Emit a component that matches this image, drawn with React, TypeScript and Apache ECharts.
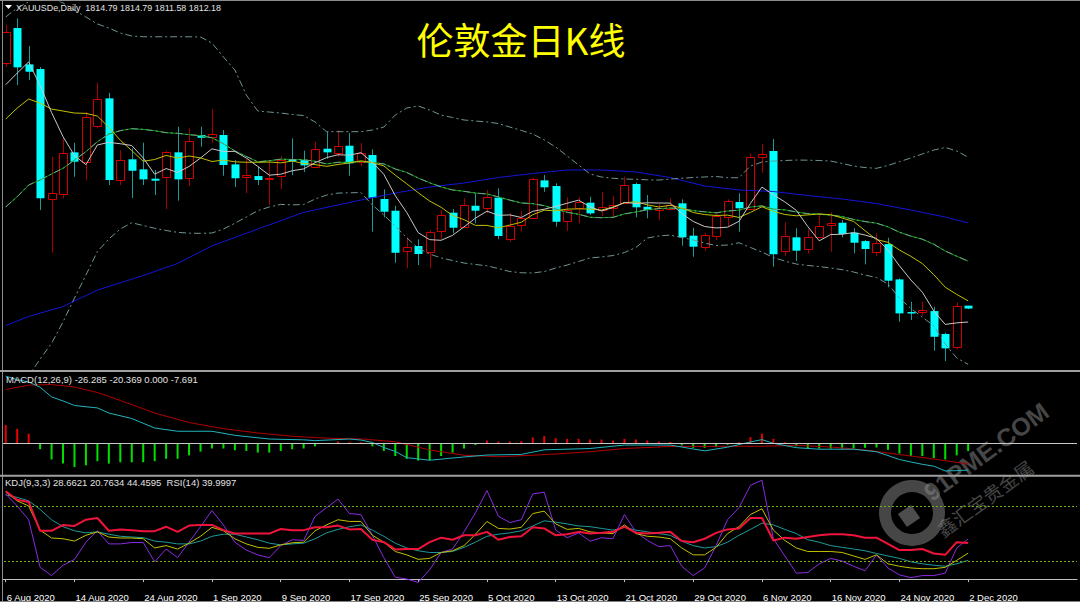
import React, { useEffect, useRef } from "react";
import * as echarts from "echarts";

// ---------- categories (trading days) ----------
const augDays = [6, 7, 10, 11, 12, 13, 14, 17, 18, 19, 20, 21, 24, 25, 26, 27, 28, 31];
const sepDays = [1, 2, 3, 4, 7, 8, 9, 10, 11, 14, 15, 16, 17, 18, 21, 22, 23, 24, 25, 28, 29, 30];
const octDays = [1, 2, 5, 6, 7, 8, 9, 12, 13, 14, 15, 16, 19, 20, 21, 22, 23, 26, 27, 28, 29, 30];
const novDays = [2, 3, 4, 5, 6, 9, 10, 11, 12, 13, 16, 17, 18, 19, 20, 23, 24, 25, 26, 27, 30];
const decDays = [1, 2];
const LABEL_EVERY = 6;
const EMPTY_SLOTS = 9;

// ---------- candles ----------
const opens = [2034.6, 2066.3, 2033.4, 2029.2, 1912.0, 1915.7, 1953.7, 1944.7, 1976.9, 2002.6, 1928.6, 1947.4, 1938.3, 1929.8, 1931.6, 1953.7, 1930.7, 1969.4, 1967.3, 1969.4, 1942.8, 1931.6, 1932.2, 1929.8, 1932.2, 1947.4, 1946.7, 1940.7, 1957.0, 1953.7, 1959.7, 1944.7, 1951.3, 1911.4, 1900.8, 1863.7, 1868.8, 1863.1, 1882.4, 1899.0, 1886.3, 1905.3, 1902.6, 1912.6, 1875.8, 1888.5, 1893.9, 1928.3, 1923.2, 1891.7, 1903.0, 1908.1, 1900.8, 1903.9, 1908.1, 1925.0, 1904.4, 1901.4, 1902.3, 1907.5, 1878.2, 1868.2, 1877.9, 1895.4, 1908.7, 1903.0, 1949.2, 1954.9, 1864.3, 1876.7, 1865.8, 1877.3, 1887.9, 1889.9, 1880.9, 1873.3, 1863.1, 1870.6, 1838.6, 1809.0, 1808.8, 1809.9, 1789.1, 1777.6, 1814.79];
const highs = [2069.0, 2075.1, 2050.0, 2031.0, 1949.7, 1966.4, 1962.4, 1990.5, 2016.8, 2007.7, 1955.8, 1957.3, 1962.4, 1937.7, 1955.2, 1976.9, 1975.5, 1976.9, 1992.9, 1973.9, 1946.7, 1948.3, 1940.7, 1946.7, 1950.4, 1966.4, 1955.2, 1963.3, 1972.4, 1973.9, 1971.2, 1962.1, 1956.4, 1920.2, 1905.1, 1876.7, 1874.9, 1883.3, 1901.4, 1902.3, 1912.0, 1916.6, 1919.6, 1921.1, 1898.4, 1900.8, 1930.4, 1933.1, 1925.6, 1912.9, 1912.9, 1913.5, 1918.0, 1914.4, 1931.6, 1926.2, 1915.0, 1906.9, 1912.0, 1911.1, 1885.4, 1880.6, 1898.7, 1911.1, 1916.6, 1952.8, 1961.0, 1965.8, 1890.3, 1884.9, 1883.9, 1896.9, 1899.4, 1892.4, 1884.9, 1874.3, 1880.3, 1876.3, 1839.6, 1818.4, 1818.4, 1813.8, 1790.3, 1817.8, 1814.79];
const lows = [2031.0, 2014.7, 2019.2, 1901.4, 1862.7, 1912.0, 1931.6, 1928.6, 1975.5, 1924.1, 1924.1, 1912.3, 1924.1, 1915.0, 1902.3, 1909.9, 1923.2, 1958.8, 1962.4, 1932.5, 1922.3, 1916.8, 1924.1, 1905.9, 1920.5, 1933.1, 1935.9, 1939.8, 1947.9, 1949.7, 1932.5, 1941.3, 1881.8, 1894.8, 1853.7, 1848.6, 1851.6, 1848.6, 1874.9, 1880.3, 1885.4, 1889.4, 1898.4, 1874.9, 1872.7, 1881.8, 1893.3, 1918.0, 1886.3, 1882.4, 1889.4, 1896.9, 1896.0, 1895.4, 1907.5, 1894.8, 1893.9, 1892.4, 1901.4, 1869.1, 1859.1, 1864.6, 1874.3, 1886.3, 1881.8, 1901.4, 1935.2, 1850.1, 1860.0, 1855.2, 1862.2, 1876.3, 1863.7, 1876.7, 1862.2, 1852.2, 1860.0, 1831.4, 1800.2, 1801.8, 1805.7, 1773.9, 1764.6, 1775.2, 1811.58];
const closes = [2062.7, 2030.7, 2026.7, 1912.0, 1917.1, 1952.8, 1945.2, 1985.4, 2001.7, 1928.6, 1946.7, 1937.0, 1929.2, 1928.0, 1954.3, 1929.2, 1963.9, 1966.9, 1970.0, 1942.2, 1930.2, 1933.4, 1928.6, 1930.7, 1946.7, 1945.6, 1941.9, 1956.7, 1953.7, 1959.7, 1943.7, 1953.1, 1912.6, 1899.9, 1862.7, 1867.6, 1861.6, 1881.2, 1896.9, 1885.4, 1906.0, 1900.8, 1912.9, 1877.9, 1887.2, 1894.5, 1929.2, 1922.0, 1890.8, 1901.4, 1908.7, 1898.4, 1903.9, 1906.2, 1924.4, 1903.9, 1901.4, 1903.0, 1906.0, 1876.7, 1868.2, 1878.8, 1896.3, 1909.6, 1903.0, 1949.7, 1952.2, 1861.3, 1877.9, 1864.6, 1876.7, 1887.2, 1889.4, 1879.7, 1871.8, 1866.1, 1871.3, 1837.4, 1807.8, 1807.8, 1810.6, 1786.6, 1776.1, 1814.7, 1812.18];

// ---------- main-window indicator lines ----------
const ma5 = [2015.0, 2025.5, 2035.6, 2014.2, 1989.8, 1967.9, 1950.8, 1942.5, 1960.4, 1962.7, 1961.5, 1959.9, 1948.6, 1933.9, 1939.0, 1935.5, 1940.9, 1948.5, 1956.9, 1954.4, 1954.6, 1948.5, 1940.9, 1933.0, 1933.9, 1937.0, 1938.7, 1944.3, 1948.9, 1951.5, 1951.1, 1953.4, 1944.6, 1933.8, 1914.4, 1899.2, 1880.9, 1874.6, 1874.0, 1878.5, 1886.2, 1894.1, 1900.4, 1896.6, 1897.0, 1894.7, 1900.3, 1902.2, 1904.7, 1907.6, 1910.4, 1904.3, 1900.6, 1903.7, 1908.3, 1907.4, 1908.0, 1907.8, 1907.7, 1898.2, 1891.1, 1886.5, 1885.2, 1885.9, 1891.2, 1907.5, 1922.2, 1915.2, 1908.8, 1901.1, 1886.5, 1873.5, 1879.2, 1879.5, 1881.0, 1878.8, 1875.7, 1865.3, 1850.9, 1838.1, 1827.0, 1810.0, 1797.8, 1799.2, 1800.0];
const ma10 = [1983.9, 1993.8, 2002.0, 1998.4, 1992.9, 1991.1, 1989.3, 1989.0, 1986.6, 1976.3, 1964.7, 1955.3, 1945.6, 1947.2, 1950.9, 1948.5, 1950.4, 1948.6, 1945.4, 1946.7, 1945.1, 1944.7, 1944.7, 1944.9, 1944.2, 1945.8, 1943.6, 1942.6, 1941.0, 1942.7, 1944.1, 1946.0, 1944.4, 1941.4, 1933.0, 1925.2, 1917.1, 1909.6, 1903.9, 1896.5, 1892.7, 1887.5, 1887.5, 1885.3, 1887.8, 1890.4, 1897.2, 1901.3, 1900.7, 1902.3, 1902.5, 1902.3, 1901.4, 1904.2, 1908.0, 1908.9, 1906.1, 1904.2, 1905.7, 1903.3, 1899.2, 1897.3, 1896.5, 1896.8, 1894.7, 1899.3, 1904.4, 1900.2, 1897.4, 1896.2, 1897.0, 1897.9, 1897.2, 1894.2, 1891.1, 1882.7, 1874.6, 1872.2, 1865.2, 1859.5, 1852.9, 1842.9, 1831.5, 1825.0, 1819.1];
const ma20 = [1904.2, 1913.5, 1924.1, 1928.6, 1934.1, 1939.2, 1946.7, 1954.3, 1963.3, 1970.3, 1973.3, 1975.1, 1974.5, 1973.3, 1971.5, 1970.9, 1969.7, 1968.8, 1966.9, 1961.5, 1954.9, 1950.0, 1945.1, 1946.1, 1947.5, 1947.2, 1947.0, 1945.6, 1943.2, 1944.7, 1944.6, 1945.4, 1944.6, 1943.2, 1938.6, 1935.5, 1930.4, 1926.1, 1922.4, 1919.6, 1918.4, 1916.8, 1916.0, 1913.3, 1910.4, 1907.8, 1907.2, 1905.4, 1902.3, 1899.4, 1897.6, 1894.9, 1894.5, 1894.8, 1897.9, 1899.7, 1901.7, 1902.7, 1903.2, 1902.8, 1900.9, 1899.8, 1898.9, 1900.5, 1901.3, 1904.1, 1905.2, 1902.2, 1901.6, 1899.7, 1898.1, 1897.6, 1896.8, 1895.5, 1892.9, 1891.0, 1889.5, 1886.2, 1881.3, 1877.8, 1875.0, 1870.4, 1864.3, 1859.6, 1855.1];
const bollUpper = [2076.3, 2084.5, 2089.9, 2095.3, 2094.4, 2089.0, 2082.6, 2076.3, 2070.0, 2066.3, 2061.8, 2059.1, 2058.4, 2058.4, 2058.4, 2058.4, 2058.4, 2058.2, 2052.7, 2040.1, 2028.3, 2005.6, 1991.1, 1990.2, 1989.3, 1988.0, 1987.0, 1981.2, 1972.4, 1972.4, 1972.4, 1972.4, 1973.9, 1976.6, 1987.5, 1993.9, 1995.7, 1992.0, 1987.5, 1985.2, 1983.0, 1982.1, 1981.2, 1979.8, 1976.6, 1973.5, 1970.3, 1964.9, 1958.5, 1950.4, 1942.2, 1934.1, 1931.3, 1930.2, 1929.5, 1929.3, 1928.8, 1928.6, 1929.5, 1930.2, 1930.9, 1931.4, 1931.8, 1930.7, 1930.7, 1941.3, 1944.9, 1945.8, 1946.3, 1946.7, 1946.6, 1946.3, 1945.8, 1943.6, 1941.3, 1939.9, 1939.2, 1941.8, 1945.2, 1948.6, 1952.2, 1955.8, 1958.1, 1954.9, 1949.2];
const bollLower = [1728.4, 1738.4, 1751.1, 1766.4, 1780.7, 1800.0, 1821.7, 1842.5, 1863.8, 1875.2, 1884.2, 1889.9, 1887.4, 1884.9, 1882.9, 1881.2, 1880.5, 1880.3, 1880.6, 1884.2, 1889.5, 1895.1, 1900.8, 1904.2, 1906.5, 1906.1, 1906.4, 1911.4, 1915.0, 1916.8, 1917.0, 1917.3, 1906.0, 1896.9, 1887.0, 1876.1, 1867.0, 1861.6, 1858.0, 1855.7, 1853.4, 1852.1, 1850.9, 1848.4, 1845.7, 1844.6, 1844.4, 1845.7, 1848.9, 1851.6, 1854.8, 1858.0, 1858.9, 1860.2, 1862.9, 1867.5, 1876.1, 1877.9, 1878.8, 1876.5, 1874.3, 1871.5, 1869.3, 1869.7, 1871.8, 1867.5, 1863.4, 1858.4, 1855.2, 1852.5, 1851.2, 1850.2, 1848.9, 1847.4, 1845.3, 1842.5, 1840.3, 1834.4, 1821.7, 1812.2, 1804.5, 1796.4, 1780.0, 1767.4, 1761.6];
const maSlowIdx = [0, 2, 5, 8, 12, 15, 18, 22, 26, 31, 34, 37, 40, 43, 46, 49, 52, 55, 58, 61, 64, 67, 70, 73, 76, 79, 82, 84];
const maSlowVal = [1796.8, 1805.0, 1814.0, 1828.9, 1842.1, 1853.0, 1869.0, 1884.2, 1899.3, 1910.5, 1916.8, 1922.3, 1925.9, 1930.9, 1934.5, 1937.7, 1937.7, 1935.9, 1930.9, 1923.2, 1919.6, 1918.2, 1914.6, 1911.4, 1907.3, 1901.4, 1895.1, 1889.7];

// ---------- MACD window ----------
const macdHist = [17.9, 14.2, 9.4, -5.8, -15.9, -19.9, -23.3, -21.6, -17.5, -19.9, -18.6, -18.6, -18.6, -17.5, -15.2, -15.2, -11.8, -8.1, -5.1, -5.1, -6.8, -7.5, -9.1, -9.1, -7.5, -5.8, -5.1, -3.0, -0.7, 1.7, 1.0, 1.0, -3.0, -7.5, -12.5, -15.2, -16.9, -16.6, -12.5, -9.1, -5.1, -1.7, 2.7, 1.7, 1.7, 2.1, 5.8, 7.1, 5.1, 4.4, 4.4, 3.7, 3.7, 2.7, 4.4, 3.7, 2.7, 1.7, 1.4, -2.0, -4.4, -4.4, -3.7, -1.4, 1.0, 6.1, 9.4, 4.4, 1.0, -3.0, -5.1, -5.1, -5.1, -5.1, -5.1, -4.4, -4.1, -6.4, -10.1, -12.5, -12.5, -14.5, -15.9, -11.8, -7.691];
const difIdx = [0, 1, 2, 3, 4, 5, 6, 7, 8, 9, 11, 13, 15, 18, 20, 23, 26, 27, 30, 31, 32, 33, 34, 35, 37, 40, 42, 45, 47, 51, 54, 58, 60, 61, 63, 65, 66, 67, 69, 71, 74, 76, 77, 78, 79, 80, 81, 82, 83, 84];
const difVal = [65.8, 62.4, 60.1, 55.0, 45.5, 41.5, 37.1, 35.8, 34.7, 29.7, 24.3, 15.0, 11.8, 11.8, 7.8, 4.2, 3.4, 2.6, 4.2, 3.2, 0.8, -4.1, -8.0, -14.1, -16.6, -13.4, -11.5, -10.9, -6.4, -5.1, -1.7, -1.7, -5.6, -7.4, -3.8, 1.3, 3.6, 0.0, -4.3, -5.8, -5.8, -8.3, -12.0, -15.9, -18.3, -20.6, -22.4, -27.1, -26.8, -26.285];
const deaIdx = [0, 2, 4, 6, 8, 10, 13, 16, 19, 22, 25, 28, 31, 34, 37, 40, 43, 46, 48, 51, 54, 58, 62, 66, 69, 72, 75, 78, 81, 84];
const deaVal = [52.7, 57.0, 57.6, 55.2, 49.8, 42.0, 29.7, 20.4, 14.3, 10.1, 6.9, 5.0, 4.3, 1.5, -6.5, -11.7, -13.2, -11.7, -10.5, -8.3, -5.1, -3.1, -3.0, -2.9, -2.0, -3.6, -6.6, -11.0, -15.4, -20.369];

// ---------- KDJ / RSI window ----------
const kLine = [96.0, 86.5, 80.8, 54.1, 45.4, 44.6, 42.0, 48.4, 52.2, 46.5, 45.4, 45.4, 44.6, 34.4, 37.0, 33.2, 39.7, 47.3, 57.2, 53.4, 44.6, 38.9, 35.1, 34.0, 37.8, 40.1, 40.8, 53.4, 59.9, 65.6, 63.7, 63.7, 48.4, 40.8, 30.5, 26.8, 21.8, 22.9, 29.4, 31.3, 37.0, 49.6, 63.7, 56.0, 55.3, 57.2, 72.4, 75.1, 61.0, 54.9, 56.0, 52.2, 51.1, 50.3, 59.9, 50.3, 47.3, 46.5, 44.6, 34.4, 26.8, 26.8, 35.1, 50.3, 57.9, 71.3, 77.7, 54.1, 42.7, 34.4, 30.5, 30.5, 30.5, 29.4, 25.6, 21.8, 26.8, 16.9, 14.2, 12.3, 11.5, 11.5, 13.0, 20.7, 28.66];
const dLine = [93.0, 90.3, 86.5, 77.0, 65.6, 57.9, 53.4, 51.1, 52.2, 49.6, 47.3, 46.5, 45.8, 42.0, 40.8, 38.9, 38.9, 42.0, 47.3, 49.6, 49.6, 46.5, 43.5, 39.7, 37.8, 38.9, 39.7, 44.6, 51.1, 54.9, 57.9, 59.9, 54.1, 47.3, 39.7, 34.4, 31.3, 29.4, 29.4, 30.5, 35.1, 40.8, 47.3, 49.6, 51.1, 53.4, 58.7, 64.4, 62.9, 61.0, 58.7, 57.9, 56.0, 54.1, 57.2, 54.1, 52.2, 50.3, 48.4, 42.0, 37.0, 34.4, 35.9, 40.8, 48.4, 54.9, 61.8, 59.9, 54.9, 50.3, 43.5, 40.8, 37.0, 35.1, 33.2, 31.3, 28.3, 25.6, 22.9, 19.1, 16.9, 15.3, 14.2, 16.9, 20.76];
const jLine = [94.1, 80.8, 65.6, 13.0, 3.9, 15.3, 21.8, 40.8, 53.4, 38.9, 38.9, 40.4, 40.4, 19.1, 33.2, 23.7, 40.8, 57.9, 75.8, 59.8, 40.8, 32.1, 26.7, 23.7, 37.0, 43.5, 42.7, 69.4, 78.9, 88.4, 72.4, 71.3, 48.4, 23.7, 2.0, 0.1, -3.7, 10.4, 29.4, 33.2, 52.2, 73.2, 97.9, 69.4, 62.5, 65.6, 94.1, 96.0, 54.1, 45.7, 51.1, 41.9, 45.7, 44.6, 71.3, 52.2, 42.7, 35.9, 37.0, 14.2, 3.9, 12.3, 37.0, 65.6, 78.9, 103.6, 109.3, 44.6, 25.6, 6.6, 7.3, 16.8, 22.9, 19.9, 14.2, 9.2, 26.7, 12.3, 4.7, 1.6, 3.9, 3.9, 6.6, 34.3, 44.46];
const rsiLine = [97.0, 87.6, 85.3, 53.4, 53.4, 59.9, 58.7, 65.6, 67.5, 53.4, 54.9, 54.1, 53.0, 53.0, 57.9, 52.2, 59.1, 59.9, 59.9, 54.1, 50.3, 50.3, 50.3, 50.3, 55.3, 54.1, 54.1, 57.2, 57.2, 59.1, 54.9, 55.3, 43.5, 40.8, 32.8, 33.2, 33.2, 40.8, 45.8, 43.5, 48.4, 48.4, 52.2, 43.5, 46.5, 47.3, 57.2, 56.0, 48.4, 49.6, 52.2, 50.3, 51.1, 52.2, 57.9, 51.1, 50.3, 51.1, 52.2, 42.0, 40.8, 44.6, 51.1, 54.9, 56.0, 67.5, 67.5, 42.7, 45.8, 44.6, 46.5, 48.4, 49.6, 49.6, 48.4, 45.8, 45.8, 38.9, 32.1, 32.1, 33.2, 28.3, 26.8, 40.8, 40.0];
const kdjLevels = [80, 20];

// ---------- texts ----------
const headerMain = "XAUUSDe,Daily  1814.79 1814.79 1811.58 1812.18";
const headerMacd = "MACD(12,26,9) -26.285 -20.369 0.000 -7.691";
const headerKdj = "KDJ(9,3,3) 28.6621 20.7634 44.4595  RSI(14) 39.9997";
const titleText = "伦敦金日K线";
const wmText1 = "91PME.COM";
const wmText2 = "鑫汇宝贵金属";

const SMALL = "'Liberation Sans', Arial, sans-serif";
const SMALL_SIZE = 9.5;

function buildDates(): string[] {
  const out: string[] = [];
  augDays.forEach((d) => out.push(`${d} Aug 2020`));
  sepDays.forEach((d) => out.push(`${d} Sep 2020`));
  octDays.forEach((d) => out.push(`${d} Oct 2020`));
  novDays.forEach((d) => out.push(`${d} Nov 2020`));
  decDays.forEach((d) => out.push(`${d} Dec 2020`));
  return out;
}

function sparse(n: number, idx: number[], val: number[]) {
  const arr: (number | null)[] = new Array(n).fill(null);
  idx.forEach((k, j) => (arr[k] = val[j]));
  return arr;
}

export default function App() {
  const ref = useRef<HTMLDivElement>(null);

  useEffect(() => {
    if (!ref.current) return;
    const chart = echarts.init(ref.current, undefined, { renderer: "svg" });
    const dates = buildDates();
    const N = dates.length;
    const cats = [...dates];
    for (let k = 0; k < EMPTY_SLOTS; k++) cats.push(`pad${k}`);

    const candleData = opens.map((o, i) => [i, o, highs[i], lows[i], closes[i]]);
    const isLabel = (i: number) => i % LABEL_EVERY === 0 && i < N;

    const gridLeft = -1.738;
    const gridWidth = 11.476 * cats.length;

    const hiddenX = (gi: number) => ({
      type: "category",
      gridIndex: gi,
      data: cats,
      boundaryGap: true,
      axisLine: { show: false },
      axisTick: { show: false },
      axisLabel: { show: false },
      splitLine: { show: false },
    });

    const lineS = (name: string, data: any[], color: string, xi: number, extra: any = {}) => ({
      name,
      type: "line",
      xAxisIndex: xi,
      yAxisIndex: xi,
      data,
      symbol: "none",
      showSymbol: false,
      connectNulls: true,
      silent: true,
      z: 3,
      lineStyle: { color, width: 1, ...(extra.lineStyle || {}) },
    });

    const smallText = (text: string, x: number, y: number, scaleX = 1) => ({
      type: "text",
      z: 102,
      x,
      y,
      scaleX,
      style: {
        text,
        fill: "#e0e0e0",
        fontSize: SMALL_SIZE,
        fontFamily: SMALL,
        textVerticalAlign: "middle",
        verticalAlign: "middle",
      },
    });

    const option: any = {
      animation: false,
      backgroundColor: "#000000",
      grid: [
        { left: gridLeft, width: gridWidth, top: 2, height: 368 },
        { left: gridLeft, width: gridWidth, top: 373, height: 101 },
        { left: gridLeft, width: gridWidth, top: 476, height: 111 },
      ],
      xAxis: [
        hiddenX(0),
        hiddenX(1),
        {
          type: "category",
          gridIndex: 2,
          data: cats,
          boundaryGap: true,
          axisLine: { show: true, lineStyle: { color: "#c0c0c0", width: 1 } },
          axisTick: {
            show: true,
            alignWithLabel: true,
            interval: (i: number) => isLabel(i),
            length: 3,
            lineStyle: { color: "#c0c0c0" },
          },
          axisLabel: {
            show: true,
            interval: (i: number) => isLabel(i),
            formatter: (v: string, i: number) => (isLabel(i) ? v : ""),
            align: "left",
            margin: 5,
            padding: [0, 0, 0, 1],
            color: "#ffffff",
            fontSize: SMALL_SIZE,
            lineHeight: 10,
            fontFamily: SMALL,
          },
          splitLine: { show: false },
        },
      ],
      yAxis: [
        { type: "value", gridIndex: 0, min: 1756.5, max: 2089.9, show: false, splitLine: { show: false } },
        { type: "value", gridIndex: 1, min: -30.1, max: 68.92, show: false, splitLine: { show: false } },
        { type: "value", gridIndex: 2, min: -8.73, max: 113.92, show: false, splitLine: { show: false } },
      ],
      series: [
        lineS("MA slow", sparse(N, maSlowIdx, maSlowVal), "#1414d8", 0),
        lineS("BB upper", bollUpper, "#6f9494", 0, { lineStyle: { type: [7, 3, 2, 3] } }),
        lineS("BB lower", bollLower, "#6f9494", 0, { lineStyle: { type: [7, 3, 2, 3] } }),
        lineS("MA20", ma20, "#00a000", 0),
        lineS("BB mid", ma20, "#7a9a9a", 0, { lineStyle: { type: [7, 3, 2, 3] } }),
        lineS("MA10", ma10, "#c0c000", 0),
        lineS("MA5", ma5, "#c8c8c8", 0),
        {
          name: "K",
          type: "custom",
          xAxisIndex: 0,
          yAxisIndex: 0,
          z: 2,
          silent: true,
          encode: { x: 0, y: [1, 2, 3, 4] },
          data: candleData,
          renderItem: (params: any, api: any) => {
            const i = api.value(0);
            const o = api.value(1);
            const h = api.value(2);
            const l = api.value(3);
            const c = api.value(4);
            const pO = api.coord([i, o]);
            const pC = api.coord([i, c]);
            const pH = api.coord([i, h]);
            const pL = api.coord([i, l]);
            const cx = Math.round(pO[0]);
            const up = c > o;
            const top = Math.min(pO[1], pC[1]);
            const bot = Math.max(pO[1], pC[1]);
            const wick = {
              type: "line",
              shape: { x1: cx + 0.5, y1: pH[1], x2: cx + 0.5, y2: pL[1] },
              style: { stroke: up ? "#a80000" : "#1a9a9a", lineWidth: 1 },
            };
            const body = up
              ? {
                  type: "rect",
                  shape: {
                    x: cx - 3.5,
                    y: Math.round(top) + 0.5,
                    width: 8,
                    height: Math.max(1, Math.round(bot - top)),
                  },
                  style: { fill: "#000000", stroke: "#d40000", lineWidth: 1 },
                }
              : {
                  type: "rect",
                  shape: { x: cx - 3.5, y: top, width: 8, height: Math.max(1.5, bot - top) },
                  style: { fill: "#00ffff" },
                };
            return { type: "group", children: [wick, body] };
          },
        },
        {
          name: "MACD hist",
          type: "bar",
          xAxisIndex: 1,
          yAxisIndex: 1,
          barWidth: 2,
          silent: true,
          data: macdHist.map((v) => ({ value: v, itemStyle: { color: v >= 0 ? "#e80000" : "#00e000" } })),
          markLine: {
            silent: true,
            symbol: ["none", "none"],
            label: { show: false },
            lineStyle: { color: "#c8c8c8", width: 1, type: "solid" },
            data: [{ yAxis: 0 }],
          },
          z: 2,
        },
        lineS("DEA", sparse(N, deaIdx, deaVal), "#b00000", 1),
        lineS("DIF", sparse(N, difIdx, difVal), "#20b4be", 1),
        {
          ...lineS("D", dLine, "#1e9a9a", 2),
          markLine: {
            silent: true,
            symbol: ["none", "none"],
            label: { show: false },
            lineStyle: { color: "#74b018", width: 1, type: [2, 2] },
            data: kdjLevels.map((v) => ({ yAxis: v })),
          },
        },
        lineS("J", jLine, "#8a2be2", 2),
        lineS("K", kLine, "#c0c000", 2),
        lineS("RSI", rsiLine, "#f0143c", 2, { lineStyle: { width: 2 } }),
      ],
      graphic: [
        // frame and window separators
        { type: "rect", z: 100, shape: { x: 0, y: 0, width: 2.5, height: 602 }, style: { fill: "#000000" } },
        { type: "line", z: 101, shape: { x1: 2.5, y1: 0, x2: 2.5, y2: 602 }, style: { stroke: "#8c8c8c", lineWidth: 1 } },
        { type: "line", z: 101, shape: { x1: 0, y1: 0.5, x2: 1080, y2: 0.5 }, style: { stroke: "#8c8c8c", lineWidth: 1 } },
        { type: "rect", z: 101, shape: { x: 0, y: 370, width: 1080, height: 2 }, style: { fill: "#a0a0a0" } },
        { type: "rect", z: 101, shape: { x: 0, y: 474.8, width: 1080, height: 2 }, style: { fill: "#a0a0a0" } },
        { type: "line", z: 101, shape: { x1: 0, y1: 601.5, x2: 1080, y2: 601.5 }, style: { stroke: "#808080", lineWidth: 1 } },
        // header
        { type: "polygon", z: 102, shape: { points: [[5, 5], [12, 5], [8.5, 9]] }, style: { fill: "#ffffff" } },
        smallText(headerMain, 16, 7.5, 0.94),
        smallText(headerMacd, 6, 379.5),
        smallText(headerKdj, 5, 482.5),
        {
          type: "text", z: 102, x: 521, y: 39,
          style: {
            text: titleText, fill: "#ffff00", fontSize: 37, fontFamily: "'Noto Sans CJK SC', sans-serif",
            textAlign: "center", align: "center", textVerticalAlign: "middle", verticalAlign: "middle",
          },
        },
        // watermark
        {
          type: "group", z: 90, x: 912, y: 513,
          children: [
            { type: "ring", shape: { cx: 0, cy: 0, r: 33, r0: 21 }, style: { fill: "rgba(128,128,128,0.55)" } },
            { type: "rect", x: -3, y: 3, rotation: 0.6, shape: { x: -8, y: -8, width: 16, height: 16 }, style: { fill: "rgba(128,128,128,0.6)" } },
            {
              type: "text", x: 22, y: -8, rotation: 0.63,
              style: { text: wmText1, fill: "rgba(140,140,140,0.5)", fontSize: 25, fontWeight: "bold", fontFamily: "'Liberation Sans', sans-serif", textVerticalAlign: "bottom", verticalAlign: "bottom" },
            },
            {
              type: "text", x: 32, y: 26, rotation: 0.63,
              style: { text: wmText2, fill: "rgba(140,140,140,0.5)", fontSize: 19, fontFamily: "'Noto Sans CJK SC', sans-serif", textVerticalAlign: "bottom", verticalAlign: "bottom" },
            },
          ],
        },
      ],
    };

    chart.setOption(option);
    return () => chart.dispose();
  }, []);

  return (
    <div
      ref={ref}
      style={{ position: "fixed", left: 0, top: 0, width: 1080, height: 602, background: "#000" }}
    />
  );
}
